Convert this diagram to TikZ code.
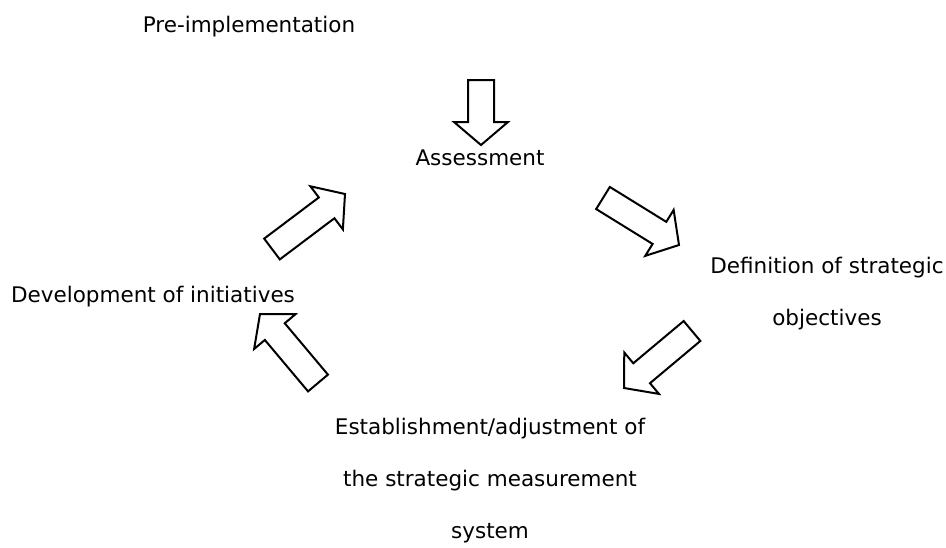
\documentclass[tikz,border=0pt]{standalone}
\usepackage{fontspec}
\setmainfont{DejaVu Sans}
\usetikzlibrary{calc}

\tikzset{
  lbl/.style={inner sep=0pt, font=\fontsize{21.5}{52}\selectfont},
  blockarr/.style={draw, line width=2pt, line join=miter, fill=white}
}

% hollow block arrow from tail #1 to tip #2
\newcommand{\blockarrow}[2]{%
  \coordinate (#1-neck) at ($(#2)!23pt!(#1)$);
  \draw[blockarr] ($(#1)!13pt!90:(#2)$) -- ($(#1-neck)!13pt!90:(#2)$)
    -- ($(#1-neck)!27pt!90:(#2)$) -- (#2)
    -- ($(#1-neck)!27pt!-90:(#2)$) -- ($(#1-neck)!13pt!-90:(#2)$)
    -- ($(#1)!13pt!-90:(#2)$) -- cycle;}

\begin{document}
\begin{tikzpicture}[x=1pt, y=-1pt]
  \useasboundingbox (0,0) rectangle (946,547);

  % stage labels (base = last line)
  \node[lbl, anchor=base] (pre) at (249,32) {Pre-implementation};
  \node[lbl, anchor=base] (assess) at (480,165) {Assessment};
  \node[lbl, anchor=base, align=center] (def) at (827,325) {Definition of strategic\\objectives};
  \node[lbl, anchor=base, align=center] (estab) at (490,538) {Establishment/adjustment of\\the strategic measurement\\system};
  \node[lbl, anchor=base] (dev) at (153,302) {Development of initiatives};

  % arrow ends
  \coordinate (pre-out) at (481,80);
  \coordinate (assess-in) at (481,145);
  \coordinate (assess-out) at (603,198);
  \coordinate (def-in) at (679,245);
  \coordinate (def-out) at (692,331);
  \coordinate (estab-in) at (624,388);
  \coordinate (estab-out) at (318,383);
  \coordinate (dev-in) at (260,314);
  \coordinate (dev-out) at (272,249);
  \coordinate (assess-back) at (345,194);

  \blockarrow{pre-out}{assess-in}
  \blockarrow{assess-out}{def-in}
  \blockarrow{def-out}{estab-in}
  \blockarrow{estab-out}{dev-in}
  \blockarrow{dev-out}{assess-back}
\end{tikzpicture}
\end{document}
